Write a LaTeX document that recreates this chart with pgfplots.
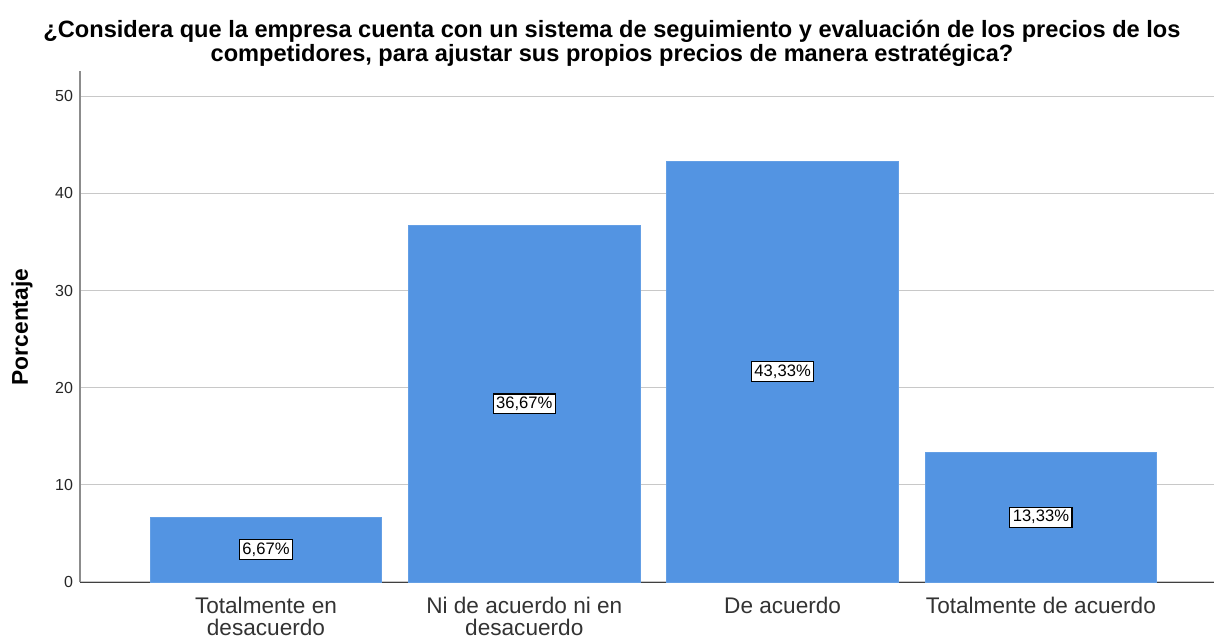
\documentclass[border=0pt]{standalone}
\usepackage{pgfplots}
\pgfplotsset{compat=1.18}
\usepackage{fontspec}
\setmainfont{Liberation Sans}
\definecolor{barblue}{RGB}{83,148,226}
\definecolor{gridgray}{RGB}{200,200,200}
\begin{document}
\begin{tikzpicture}
\useasboundingbox (-40pt,-28.5pt) rectangle (567pt,291pt);
\begin{axis}[
  at={(0,0)}, anchor=south west,
  scale only axis,
  width=567pt, height=255.5pt,
  xmin=-0.72, xmax=3.67,
  ymin=0, ymax=52.6,
  axis x line*=bottom, axis y line*=left,
  x axis line style={draw=black!75, -},
  y axis line style={draw=black!45, line width=0.8pt, -},
  xtick={0,1,2,3},
  xticklabels={{Totalmente en\\desacuerdo}, {Ni de acuerdo ni en\\desacuerdo}, De acuerdo, Totalmente de acuerdo},
  xticklabel style={font=\fontsize{11.3}{10.8}\selectfont, align=center, text=black!80, anchor=north, yshift=-4pt},
  ytick={0,10,20,30,40,50},
  yticklabel style={font=\fontsize{8}{9}\selectfont, text=black!85},
  /pgf/number format/assume math mode=true,
  major tick length=0pt,
  ymajorgrids, grid style={gridgray, line width=0.6pt},
  ybar, bar width=0.896,
  visualization depends on={rawy \as \rawy},
  nodes near coords={\pgfmathprintnumber[fixed,precision=2,fixed zerofill,use comma]{\pgfplotspointmeta}\%},
  point meta=rawy,
  every node near coord/.append style={anchor=center, shift={(axis direction cs:0,-\rawy/2)}, draw=black, fill=white, line width=0.6pt, inner sep=1.5pt, font=\fontsize{8.3}{9}\selectfont, text=black},
]
\addplot[fill=barblue, draw=barblue!90!white] coordinates {(0,6.67) (1,36.67) (2,43.33) (3,13.33)};
\end{axis}
\node[font=\bfseries\fontsize{11.8}{10}\selectfont, align=center, anchor=center] at (266pt,269.5pt) {¿Considera que la empresa cuenta con un sistema de seguimiento y evaluación de los precios de los\\competidores, para ajustar sus propios precios de manera estratégica?};
\node[font=\bfseries\fontsize{11.4}{10}\selectfont, rotate=90, anchor=center] at (-29pt,127.5pt) {Porcentaje};
\end{tikzpicture}
\end{document}
